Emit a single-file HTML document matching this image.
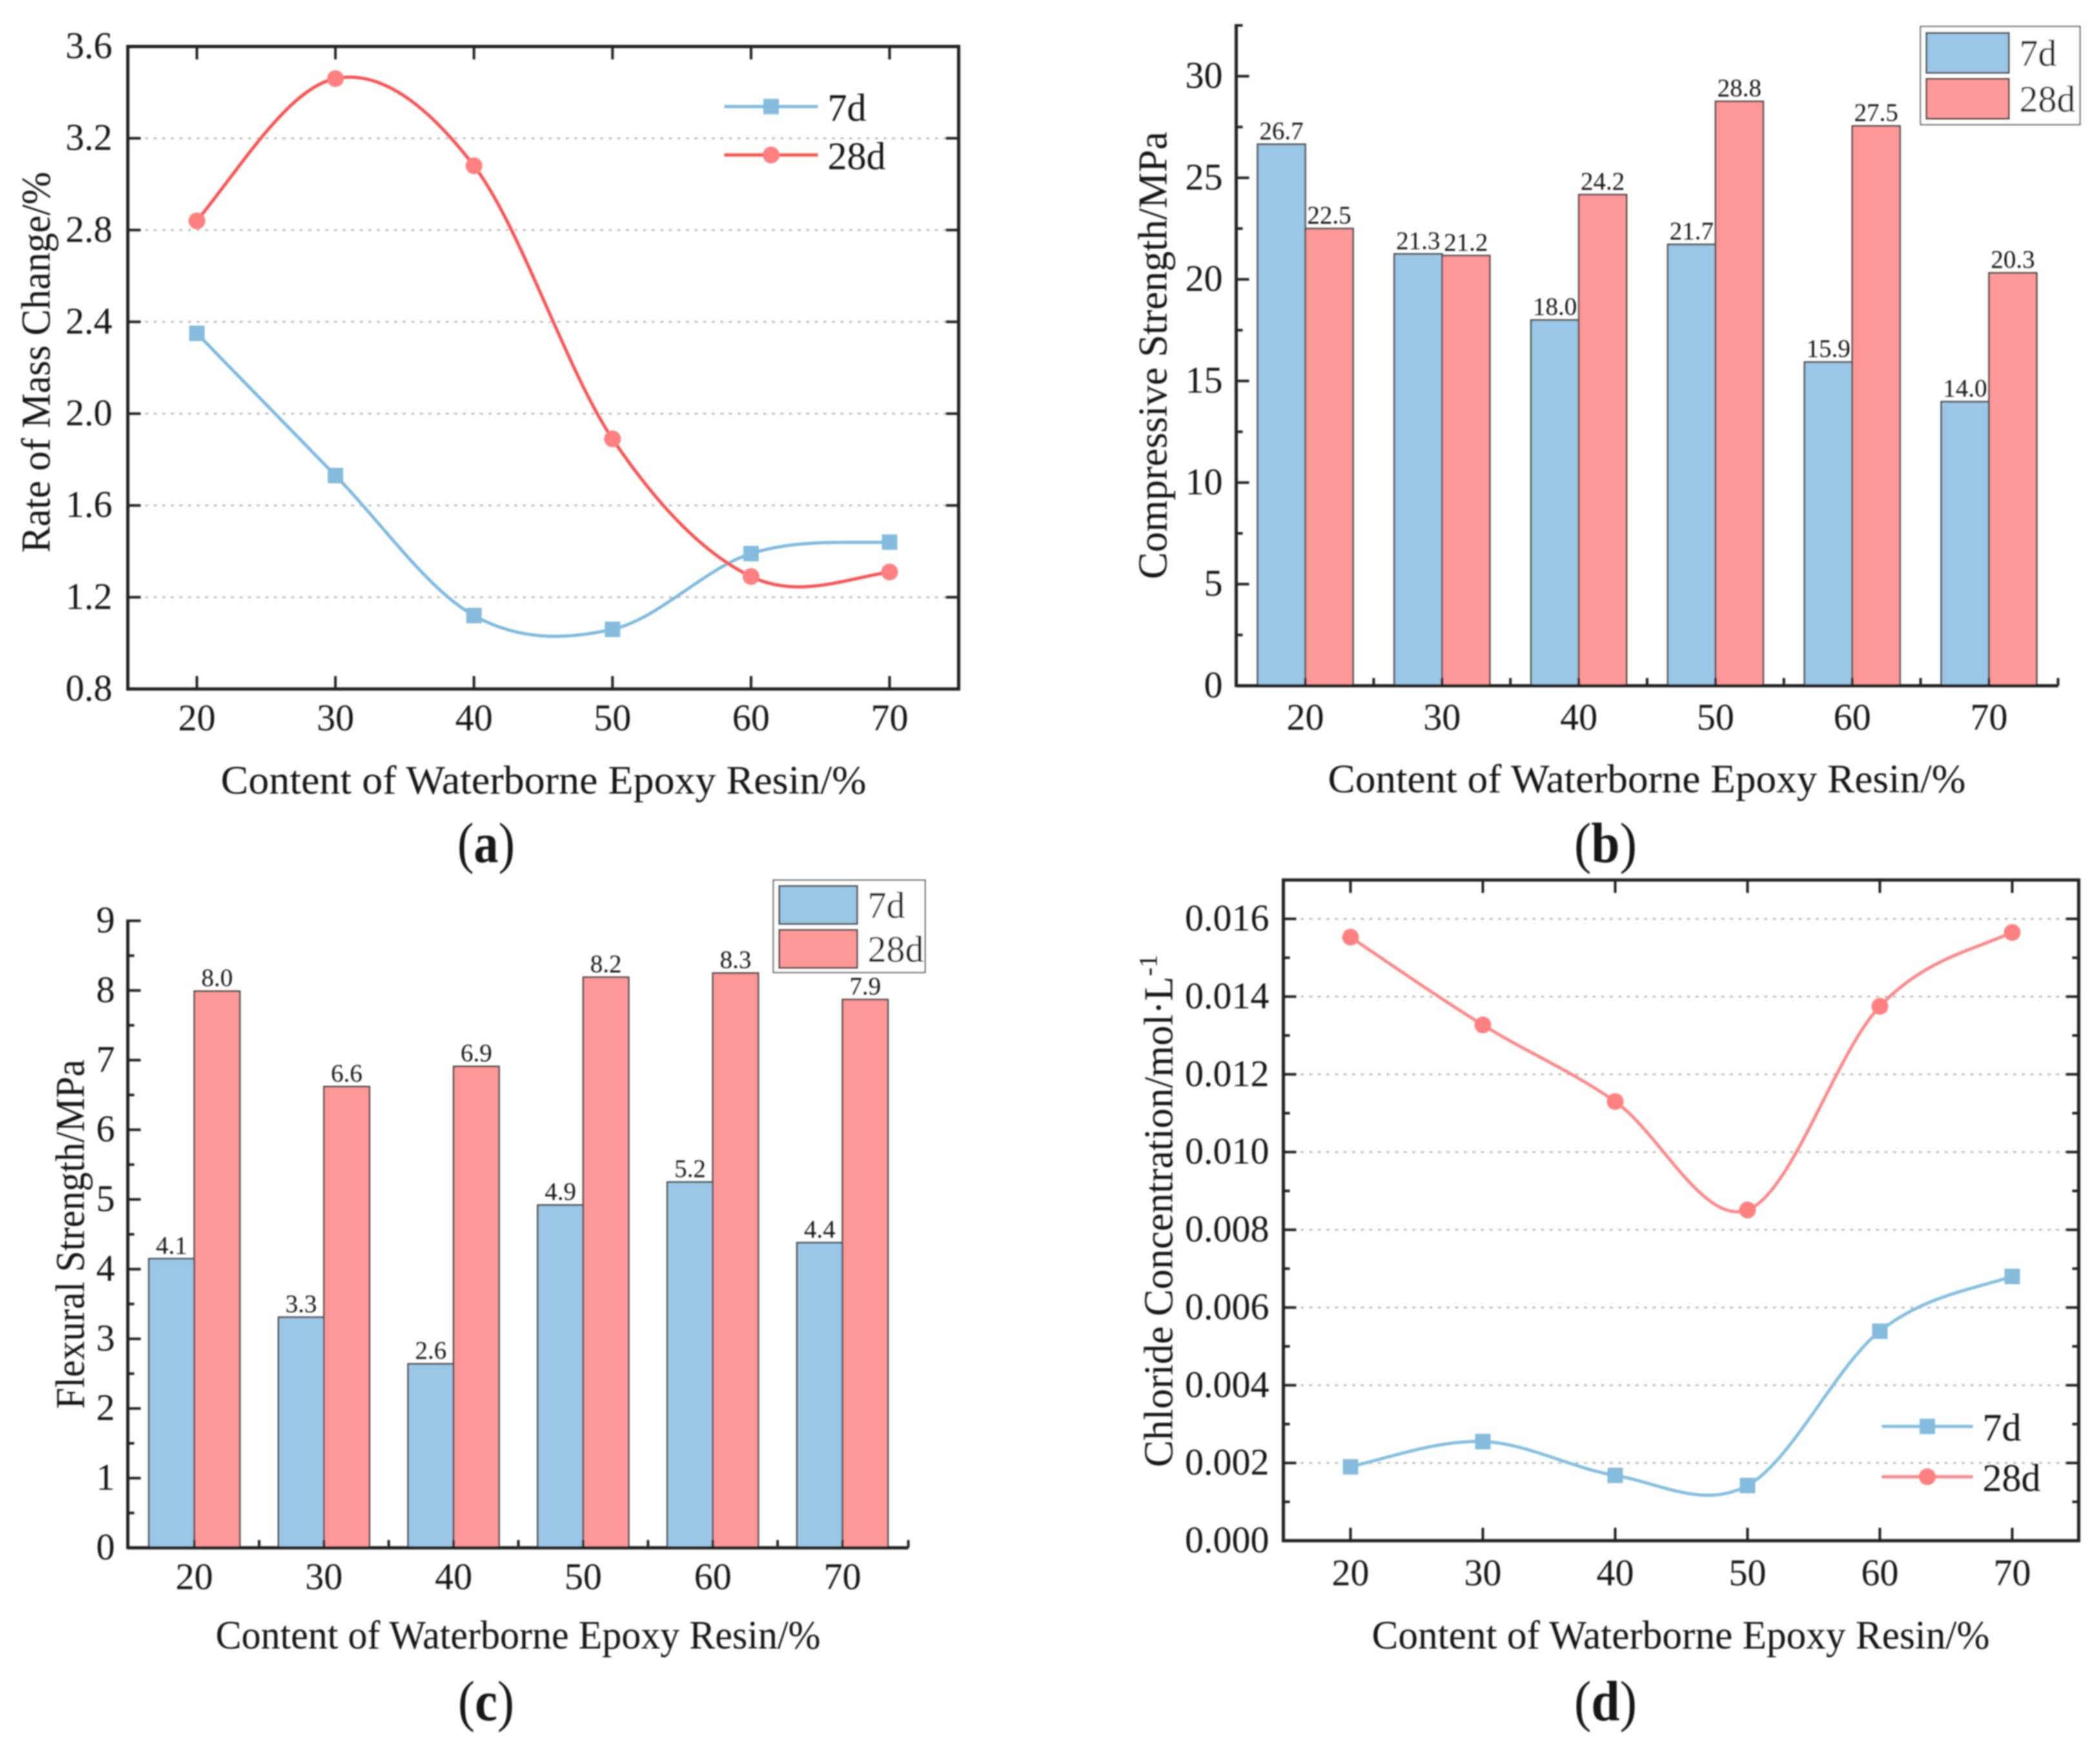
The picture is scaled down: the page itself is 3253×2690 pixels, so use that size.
<!DOCTYPE html>
<html lang="en">
<head>
<meta charset="utf-8">
<title>Waterborne epoxy resin test results</title>
<style>
html,body{margin:0;padding:0;background:#fff;}
svg{display:block;}
text{font-family:"Liberation Serif",serif;fill:#151515;}
</style>
</head>
<body>
<svg id="fig" xmlns="http://www.w3.org/2000/svg" width="3253" height="2690" viewBox="0 0 3253 2690">
<defs><filter id="soft" x="-2%" y="-2%" width="104%" height="104%"><feGaussianBlur stdDeviation="1"/></filter></defs>
<rect width="3253" height="2690" fill="#fff"/>
<g id="root" filter="url(#soft)"></g>
</svg>
<script>
// Shared categories
const contentLevels = [20, 30, 40, 50, 60, 70];

// Panel (a): rate of mass change
const massTicks = ['0.8','1.2','1.6','2.0','2.4','2.8','3.2','3.6'];
const mass7d = [2.35, 1.73, 1.12, 1.06, 1.39, 1.44];
const mass28d = [2.84, 3.46, 3.08, 1.89, 1.29, 1.31];

// Panel (b): compressive strength
const compTicks = ['0','5','10','15','20','25','30'];
const comp7d = [26.65, 21.25, 18.0, 21.72, 15.93, 13.98];
const comp28d = [22.5, 21.17, 24.17, 28.76, 27.55, 20.32];
const comp7dLabels = ['26.7','21.3','18.0','21.7','15.9','14.0'];
const comp28dLabels = ['22.5','21.2','24.2','28.8','27.5','20.3'];

// Panel (c): flexural strength
const flexTicks = ['0','1','2','3','4','5','6','7','8','9'];
const flex7d = [4.15, 3.31, 2.64, 4.92, 5.25, 4.38];
const flex28d = [7.99, 6.62, 6.91, 8.19, 8.25, 7.87];
const flex7dLabels = ['4.1','3.3','2.6','4.9','5.2','4.4'];
const flex28dLabels = ['8.0','6.6','6.9','8.2','8.3','7.9'];

// Panel (d): chloride concentration
const chlorideTicks = ['0.000','0.002','0.004','0.006','0.008','0.010','0.012','0.014','0.016'];
const chloride7d = [0.0019, 0.00255, 0.00168, 0.00142, 0.00539, 0.0068];
const chloride28d = [0.01553, 0.01327, 0.0113, 0.00851, 0.01375, 0.01565];

const NS = 'http://www.w3.org/2000/svg';
const root = document.getElementById('root');
const INK = '#222';
const BLUE_BAR = '#9bc6e6', RED_BAR = '#ff9999', BAR_EDGE = '#4a4a4a';

function mk(tag, attrs, parent, txt) {
  const el = document.createElementNS(NS, tag);
  for (const k in attrs) el.setAttribute(k, attrs[k]);
  if (txt !== undefined) el.textContent = txt;
  (parent || root).appendChild(el);
  return el;
}
function line(p, x1, y1, x2, y2, w, c, name) {
  const el = mk('line', {x1, y1, x2, y2, stroke: c || INK, 'stroke-width': w || 4}, p);
  
  
  return el;
}
function label(p, s, x, y, size, anchor, name, extra) {
  const el = mk('text', Object.assign({x, y, 'font-size': size, 'text-anchor': anchor || 'middle'}, extra || {}), p, s);
  
  
  return el;
}
function group(name) {
  const g = mk('g', {});
  
  
  return g;
}
// Smooth cubic Hermite curve through the data points (central-difference tangents)
function smoothPath(xs, ys) {
  const n = xs.length, m = [];
  for (let i = 1; i < n - 1; i++) m[i] = (ys[i + 1] - ys[i - 1]) / (xs[i + 1] - xs[i - 1]);
  const endTangent = (d, inner) => (d + (3 * d - inner) / 2) / 2;
  m[0] = endTangent((ys[1] - ys[0]) / (xs[1] - xs[0]), m[1]);
  m[n - 1] = endTangent((ys[n - 1] - ys[n - 2]) / (xs[n - 1] - xs[n - 2]), m[n - 2]);
  let path = 'M' + xs[0] + ' ' + ys[0];
  for (let i = 0; i < n - 1; i++) {
    const h = xs[i + 1] - xs[i];
    path += ' C' + (xs[i] + h / 3).toFixed(1) + ' ' + (ys[i] + m[i] * h / 3).toFixed(1) + ' ' +
      (xs[i + 1] - h / 3).toFixed(1) + ' ' + (ys[i + 1] - m[i + 1] * h / 3).toFixed(1) + ' ' +
      xs[i + 1].toFixed(1) + ' ' + ys[i + 1].toFixed(1);
  }
  return path;
}
function yAxisFn(v0, v1, py0, py1) { return v => py0 + (v - v0) * (py1 - py0) / (v1 - v0); }
function xAxisFn(c0, c1, px0, px1) { return c => px0 + (c - c0) * (px1 - px0) / (c1 - c0); }

function xTitle(g, x0, x1, base) {
  return label(g, 'Content of Waterborne Epoxy Resin/%', (x0 + x1) / 2, base, 62, 'middle', 'x-axis-title',
    {textLength: x1 - x0, lengthAdjust: 'spacingAndGlyphs'});
}
function yTitle(g, s, cx, y0, y1) {
  const mid = (y0 + y1) / 2;
  return label(g, s, cx, mid, 63, 'middle', 'y-axis-title',
    {transform: 'rotate(-90 ' + cx + ' ' + mid + ')', textLength: y1 - y0, lengthAdjust: 'spacingAndGlyphs'});
}
function caption(letter, cx, base, w) {
  const t = mk('text', {x: cx, y: base, 'font-size': 88, 'text-anchor': 'middle', textLength: w, lengthAdjust: 'spacingAndGlyphs'});
  
  
  mk('tspan', {}, t, '(');
  mk('tspan', {'font-weight': 'bold'}, t, letter);
  mk('tspan', {}, t, ')');
}

function drawMarker(g, sr, x, y, name) {
  let m;
  if (sr.shape === 'square') {
    m = mk('rect', {x: x - 12, y: y - 12, width: 24, height: 24, fill: sr.marker}, g);
  } else {
    m = mk('circle', {cx: x, cy: y, r: 13, fill: sr.marker}, g);
  }
  
  
}

function drawLinePanel(cfg) {
  const g = group(cfg.name);
  const X = xAxisFn(20, 70, cfg.x20, cfg.x70);
  const Y = yAxisFn(cfg.v0, cfg.v1, cfg.y0, cfg.y1);
  const top = Y(cfg.vTop);
  // gridlines
  cfg.ticks.forEach(s => {
    const v = parseFloat(s), y = Y(v);
    if (y < cfg.y0 - 2 && y > top + 2) {
      const gl = mk('line', {x1: cfg.left, x2: cfg.right, y1: y, y2: y, stroke: '#c2c2c2', 'stroke-width': 3, 'stroke-dasharray': '5 8.3'}, g);
      
      
    }
  });
  // frame
  const fr = mk('rect', {x: cfg.left, y: top, width: cfg.right - cfg.left, height: cfg.y0 - top, fill: 'none', stroke: INK, 'stroke-width': 5}, g);
  
  
  // y ticks
  cfg.ticks.forEach(s => {
    const v = parseFloat(s), y = Y(v);
    if (y > top + 2) {
      line(g, cfg.left, y, cfg.left + 20, y, 4, INK, 'y-tick');
      line(g, cfg.right, y, cfg.right - 20, y, 4, INK, 'y-tick-right');
    }
    label(g, s, cfg.labelRight, y + 18, 58, 'end', 'y-tick-label');
  });
  if (cfg.minorStep) {
    for (let v = cfg.v0 + cfg.minorStep; v < cfg.vTop - 1e-9; v += 2 * cfg.minorStep) {
      const y = Y(v);
      line(g, cfg.left, y, cfg.left + 10, y, 4, INK, 'y-minor-tick');
      line(g, cfg.right, y, cfg.right - 10, y, 4, INK, 'y-minor-tick-right');
    }
  }
  // x ticks
  contentLevels.forEach(c => {
    const x = X(c);
    line(g, x, cfg.y0, x, cfg.y0 - 20, 4, INK, 'x-tick');
    line(g, x, top, x, top + 20, 4, INK, 'x-tick-top');
    label(g, String(c), x, cfg.xLabelBase, 58, 'middle', 'x-tick-label');
  });
  // series
  cfg.series.forEach(sr => {
    const xs = contentLevels.map(X), ys = sr.values.map(Y);
    const p = mk('path', {d: smoothPath(xs, ys), fill: 'none', stroke: sr.line, 'stroke-width': 5}, g);
    
    
    sr.values.forEach((v, i) => drawMarker(g, sr, X(contentLevels[i]), Y(v), 'point-' + sr.key));
  });
  // legend
  cfg.series.forEach((sr, i) => {
    const ly = cfg.legendY[i];
    line(g, cfg.legendX0, ly, cfg.legendX1, ly, 5, sr.line, 'legend-line-' + sr.key);
    drawMarker(g, sr, (cfg.legendX0 + cfg.legendX1) / 2, ly, 'legend-marker-' + sr.key);
    label(g, sr.key, cfg.legendX1 + 15, ly + 22, 60, 'start', 'legend-label-' + sr.key);
  });
  return g;
}

function drawBarPanel(cfg) {
  const g = group(cfg.name);
  const X = xAxisFn(20, 70, cfg.x20, cfg.x70);
  const Y = yAxisFn(0, cfg.vMax, cfg.y0, cfg.yMax);
  const top = Y(cfg.vTop);
  contentLevels.forEach((c, i) => {
    const x = X(c);
    const b1 = mk('rect', {x: x - cfg.barW, y: Y(cfg.v7[i]), width: cfg.barW, height: cfg.y0 - Y(cfg.v7[i]), fill: BLUE_BAR, stroke: BAR_EDGE, 'stroke-width': 2.5}, g);
    
    
    const b2 = mk('rect', {x: x, y: Y(cfg.v28[i]), width: cfg.barW, height: cfg.y0 - Y(cfg.v28[i]), fill: RED_BAR, stroke: BAR_EDGE, 'stroke-width': 2.5}, g);
    
    
    label(g, cfg.l7[i], x - cfg.barW / 2, Y(cfg.v7[i]) - 8, 39, 'middle', 'value-label-7d');
    label(g, cfg.l28[i], x + cfg.barW / 2, Y(cfg.v28[i]) - 8, 39, 'middle', 'value-label-28d');
    line(g, x, cfg.y0, x, cfg.y0 - 12, 4, INK, 'x-tick');
    label(g, String(c), x, cfg.xLabelBase, 58, 'middle', 'x-tick-label');
  });
  const spacing = X(30) - X(20);
  for (let i = 0; i < contentLevels.length - 1; i++) {
    const tx = X(contentLevels[i]) + spacing / 2;
    line(g, tx, cfg.y0, tx, cfg.y0 - 12, 4, INK, 'x-boundary-tick');
  }
  line(g, cfg.left, cfg.y0, cfg.right, cfg.y0, 5, INK, 'x-axis-line');
  line(g, cfg.right, cfg.y0, cfg.right, cfg.y0 - 12, 4, INK, 'x-end-tick');
  line(g, cfg.left, cfg.y0 + 2, cfg.left, top - 2, 5, INK, 'y-axis-line');
  cfg.ticks.forEach(s => {
    const y = Y(parseFloat(s));
    line(g, cfg.left, y, cfg.left + 20, y, 4, INK, 'y-tick');
    label(g, s, cfg.labelRight, y + 18, 58, 'end', 'y-tick-label');
  });
  for (let v = cfg.minorStep; v < cfg.vTop + 1e-9; v += 2 * cfg.minorStep) {
    const y = Y(v);
    line(g, cfg.left, y, cfg.left + 10, y, 4, INK, 'y-minor-tick');
  }
  // legend
  const lb = cfg.legend;
  const box = mk('rect', {x: lb.x, y: lb.y, width: lb.w, height: lb.h, fill: '#fff', stroke: '#555', 'stroke-width': 2}, g);
  
  
  [['7d', BLUE_BAR, lb.s1], ['28d', RED_BAR, lb.s2]].forEach(e => {
    const r = mk('rect', {x: lb.sx, y: e[2], width: lb.sw, height: lb.sh, fill: e[1], stroke: '#333', 'stroke-width': 2.5}, g);
    
    
    label(g, e[0], lb.sx + lb.sw + 16, e[2] + lb.sh / 2 + 20, 58, 'start', 'legend-label-' + e[0]);
  });
  return g;
}

// ---- panel a
const ga = drawLinePanel({
  name: 'panel-a-mass-change', x20: 305, x70: 1378, left: 198, right: 1485,
  y0: 1067, y1: 72, v0: 0.8, v1: 3.6, vTop: 3.6, ticks: massTicks, minorStep: 0,
  labelRight: 174, xLabelBase: 1131,
  series: [
    {key: '7d', values: mass7d, line: '#7fbbdf', marker: '#85bbdc', shape: 'square'},
    {key: '28d', values: mass28d, line: '#f85555', marker: '#ff8080', shape: 'circle'}
  ],
  legendY: [165, 240], legendX0: 1122, legendX1: 1267
});
xTitle(ga, 342, 1342, 1229);
yTitle(ga, 'Rate of Mass Change/%', 77, 266, 856);
caption('a', 753, 1335, 89);

// ---- panel b
const gb = drawBarPanel({
  name: 'panel-b-compressive-strength', x20: 2022, x70: 3081, left: 1915, right: 3188,
  y0: 1062, yMax: 118, vMax: 30, vTop: 32.5, ticks: compTicks, minorStep: 2.5,
  v7: comp7d, v28: comp28d, l7: comp7dLabels, l28: comp28dLabels, barW: 74,
  labelRight: 1894, xLabelBase: 1130,
  legend: {x: 2975, y: 41, w: 247, h: 152, sx: 2984, sw: 128, sh: 62, s1: 51, s2: 122}
});
xTitle(gb, 2057, 3045, 1227);
yTitle(gb, 'Compressive Strength/MPa', 1807, 204, 897);
caption('b', 2487, 1335, 97);

// ---- panel c
const gc = drawBarPanel({
  name: 'panel-c-flexural-strength', x20: 301, x70: 1305, left: 198, right: 1407,
  y0: 2397, yMax: 1426, vMax: 9, vTop: 9, ticks: flexTicks, minorStep: 0.5,
  v7: flex7d, v28: flex28d, l7: flex7dLabels, l28: flex28dLabels, barW: 70.5,
  labelRight: 178, xLabelBase: 2461,
  legend: {x: 1198, y: 1363, w: 235, h: 143, sx: 1207, sw: 121, sh: 59, s1: 1372, s2: 1440}
});
xTitle(gc, 334, 1271, 2553);
yTitle(gc, 'Flexural Strength/MPa', 130, 1641, 2182);
caption('c', 753, 2664, 87);

// ---- panel d
const gd = drawLinePanel({
  name: 'panel-d-chloride-concentration', x20: 2092, x70: 3117, left: 1988, right: 3220,
  y0: 2386, y1: 1423, v0: 0, v1: 0.016, vTop: 0.017, ticks: chlorideTicks, minorStep: 0.001,
  labelRight: 1966, xLabelBase: 2455,
  series: [
    {key: '7d', values: chloride7d, line: '#85c0e0', marker: '#85bbdc', shape: 'square'},
    {key: '28d', values: chloride28d, line: '#fb8a8a', marker: '#ff8080', shape: 'circle'}
  ],
  legendY: [2209, 2287], legendX0: 2915, legendX1: 3056
});
xTitle(gd, 2125, 3082, 2553);
yTitle(gd, 'Chloride Concentration/mol·L', 1816, 1512, 2272);
label(gd, '-1', 1792, 1495, 40, 'middle', 'y-axis-title-superscript', {transform: 'rotate(-90 1792 1495)'});
caption('d', 2487, 2664, 97);
</script>
</body>
</html>
